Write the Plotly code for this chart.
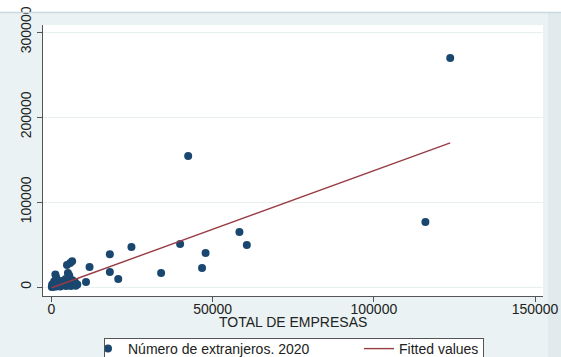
import plotly.graph_objects as go

# Firms (x) vs. number of foreign residents, 2020 (y)
total_empresas = [
    123700, 42400, 116000, 60600, 58300, 47800, 46700, 39900, 34000, 24800,
    18100, 18100, 20700, 11800, 10700,
    6400, 5800, 4800, 5100, 5500, 1200, 1500, 6500, 7300, 3200,
    2500, 800, 4200, 5800, 6800, 8000, 300, 600, 1000, 1500,
    2000, 200, 3000, 3600, 4500, 5200, 7500, 400, 900, 2700,
    100, 1800, 5000, 6200, 4400, 3900, 7000, 2200, 6000, 1300,
]
extranjeros_2020 = [
    269500, 154000, 76500, 49400, 64700, 40000, 22400, 50500, 16500, 47000,
    38600, 17600, 9400, 23500, 5800,
    30200, 28300, 25900, 16500, 13500, 14600, 11000, 8000, 5500, 7000,
    4500, 6500, 3500, 3000, 2500, 3000, 500, 1500, 2500, 1000,
    2000, 3000, 1500, 2500, 1200, 2000, 1500, 300, 800, 600,
    100, 4000, 6000, 4500, 9500, 5200, 3800, 1800, 1200, 500,
]

# Linear fit line (endpoints of the fitted values)
fit_x = [100, 123700]
fit_y = [-900, 169500]

x_ticks = [0, 50000, 100000, 150000]
y_ticks = [0, 100000, 200000, 300000]

NAVY = "#1a476f"
MAROON = "#983c44"
BG = "#eaf2f3"
FONT = "Liberation Sans"
TXT = "#222222"

fig = go.Figure()
fig.add_trace(go.Scatter(
    x=total_empresas, y=extranjeros_2020, mode="markers",
    name="Número de extranjeros. 2020",
    marker=dict(color=NAVY, size=8, line=dict(width=0)),
    legendwidth=226,
))
fig.add_trace(go.Scatter(
    x=fit_x, y=fit_y, mode="lines", name="Fitted values",
    line=dict(color=MAROON, width=1.4),
))

W, H = 561, 357
ml, mr, mt, mb = 43, 18, 25, 61
pw, ph = W - ml - mr, H - mt - mb


def px_x(p):
    return (p - ml) / pw


def px_y(p):
    return (H - mb - p) / ph


shapes = [
    # white strip along the top edge of the window
    dict(type="rect", xref="paper", yref="paper", x0=px_x(0), x1=px_x(W),
         y0=px_y(12), y1=px_y(0), fillcolor="white", line=dict(width=0),
         layer="below"),
    dict(type="line", xref="paper", yref="paper", x0=px_x(0), x1=px_x(W),
         y0=px_y(12.5), y1=px_y(12.5), line=dict(color="#c9d8de", width=1.5)),
    # darker strip at the right edge
    dict(type="rect", xref="paper", yref="paper", x0=px_x(548), x1=px_x(W),
         y0=px_y(H), y1=px_y(13), fillcolor="#e1eaec", line=dict(width=0),
         layer="below"),
    # white legend panel
    dict(type="rect", xref="paper", yref="paper", x0=px_x(104.5), x1=px_x(483.5),
         y0=px_y(360), y1=px_y(338.5), fillcolor="white",
         line=dict(width=0), layer="above"),
]

fig.update_layout(
    width=W, height=H,
    margin=dict(l=ml, r=mr, t=mt, b=mb, pad=0, autoexpand=False),
    paper_bgcolor=BG, plot_bgcolor="white",
    font=dict(family=FONT, size=14, color=TXT),
    shapes=shapes,
    showlegend=True,
    legend=dict(
        orientation="h", x=px_x(88), xanchor="left", y=px_y(333), yanchor="top",
        bgcolor="rgba(255,255,255,0)", borderwidth=0,
        font=dict(family=FONT, size=14, color=TXT),
    ),
    annotations=[
        dict(text="TOTAL DE EMPRESAS", xref="paper", yref="paper",
             x=px_x(293), y=px_y(322), xanchor="center", yanchor="middle",
             showarrow=False, font=dict(family=FONT, size=14, color=TXT)),
        dict(text="y", xref="paper", yref="paper", x=px_x(469), y=px_y(-1),
             xanchor="center", yanchor="bottom", showarrow=False,
             font=dict(family=FONT, size=16, color="#444444")),
        # legend frame outline
        dict(text=" ", xref="paper", yref="paper",
             x=px_x(104), y=px_y(338), xanchor="left", yanchor="top",
             width=378, height=40, borderpad=0, borderwidth=1,
             bordercolor="#555555", bgcolor="rgba(0,0,0,0)", showarrow=False),
    ],
)

fig.update_xaxes(
    range=[-2640, 152480], tickvals=x_ticks, ticktext=[str(v) for v in x_ticks],
    showgrid=False, zeroline=False,
    showline=True, linecolor="#555555", linewidth=1,
    ticks="outside", ticklen=5, tickcolor="#555555",
    ticklabelstandoff=-5,
)
fig.update_yaxes(
    range=[-10590, 308240], tickvals=y_ticks, ticktext=[str(v) for v in y_ticks],
    tickangle=-90,
    showgrid=True, gridcolor="#e8eff1", gridwidth=1, zeroline=False,
    showline=True, linecolor="#555555", linewidth=1,
    ticks="outside", ticklen=5, tickcolor="#555555",
)

fig.write_html("out.html")
